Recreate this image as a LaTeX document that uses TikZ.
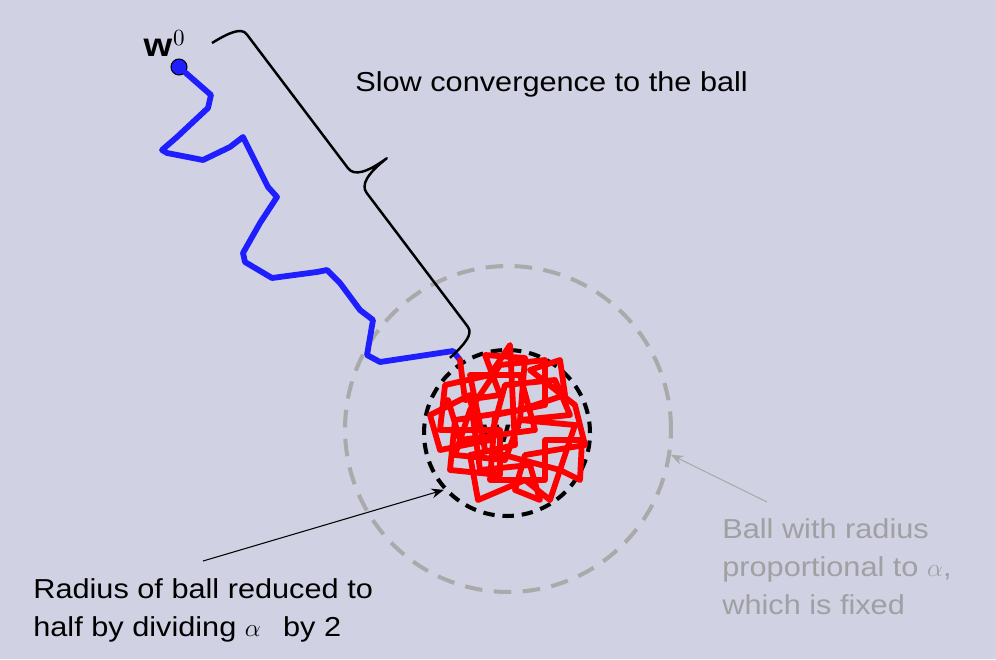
\documentclass[tikz,border=0pt]{standalone}
\usepackage{fontspec}
\setmainfont{Liberation Sans}[FakeStretch=1.12]
\usetikzlibrary{arrows.meta, positioning, calc}
\definecolor{slidebg}{RGB}{208, 209, 227}
\definecolor{walkblue}{RGB}{30, 30, 255}
\definecolor{walkred}{RGB}{255, 0, 0}
\definecolor{ballgray}{RGB}{170, 170, 170}
\definecolor{notegray}{RGB}{160, 160, 163}

\begin{document}
\begin{tikzpicture}[
    x=0.02cm, y=-0.02cm,
    every node/.style={font=\fontsize{15.6}{21.8}\selectfont},
    iterpt/.style={
        circle,
        draw=black,
        line width=0.6pt,
        fill=walkblue,
        minimum size=0.32cm,
        inner sep=0pt
    },
    ball/.style={circle, inner sep=0pt, line width=2.3pt},
    walk/.style={line width=3.3pt, line join=round, line cap=round},
    pointer/.style={-{Stealth[length=7pt, width=5.5pt]}, line width=0.6pt},
    note/.style={align=left, anchor=north west, inner sep=0pt}
]

% Background of the slide
\fill[slidebg] (0,0) rectangle (996,659);
\useasboundingbox (0,0) rectangle (996,659);

% The two balls round the optimum
\node[ball, draw=ballgray, dash pattern=on 10pt off 6.5pt, minimum size=6.52cm] (bigball) at (508,429) {};
\node[ball, draw=black, dash pattern=on 6.5pt off 4.5pt, minimum size=3.32cm] (smallball) at (507,433) {};
\node[inner sep=0pt] (wstar) at (503,432) {\scalebox{1.2}{$\mathbf{w}^{\,*}$}};

% Starting point
\node[iterpt] (w0) at (179,67) {};
\node[inner sep=0pt, anchor=south east] (w0label) at (186,57) {\scalebox{1.2}{$\mathbf{w}^{\,0}$}};

% Path of the iterates: slow walk to the ball, then noise inside it
\coordinate (reach) at (460,360);
\draw[walk, walkblue] (w0) -- (203,88) -- (211,95) -- (208,108) -- (177,137)
    -- (162,150) -- (167,153) -- (203,160) -- (230,147) -- (243,137)
    -- (268,187) -- (277,197) -- (260,223) -- (243,253) -- (245,262)
    -- (272,278) -- (317,272) -- (327,270) -- (340,283) -- (360,310)
    -- (373,320) -- (367,355) -- (380,362) -- (453,351) -- (reach);
\draw[walk, walkred] (reach) -- (465,400) -- (500,395) -- (485,355) -- (525,358)
    -- (520,420) -- (570,415) -- (555,380) -- (505,385) -- (490,440)
    -- (440,450) -- (430,415) -- (470,395) -- (480,470) -- (530,465)
    -- (540,500) -- (515,490) -- (525,455) -- (585,445) -- (575,405)
    -- (530,370) -- (560,360) -- (565,395) -- (520,410) -- (455,420)
    -- (450,470) -- (500,475) -- (500,430) -- (440,430) -- (445,385)
    -- (490,375) -- (510,345) -- (515,445) -- (470,455) -- (478,500)
    -- (525,480) -- (550,500) -- (560,470) -- (580,480) -- (582,440)
    -- (545,440) -- (545,480) -- (490,480) -- (495,415) -- (545,405)
    -- (545,360) -- (500,365) -- (470,410) -- (455,455) -- (505,460)
    -- (520,420) -- (575,425) -- (560,470) -- (485,450) -- (470,375)
    -- (520,375) -- (535,430) -- (460,440) -- (448,400);

% Brace along the slow part
\begin{scope}[shift={(212,43)}, x={(0.01205cm,-0.01595cm)}, y={(0.01595cm,0.01205cm)}]
\draw[line width=1.4pt, line join=round]
    (0,0) .. controls (2,20) and (5,33) .. (14,33) -- (182,33)
    .. controls (192,33) and (197,45) .. (197.5,70)
    .. controls (198,45) and (203,33) .. (213,33) -- (381,33)
    .. controls (390,33) and (393,20) .. (395,0);
\end{scope}

% Labels
\node[note] (slow) at (355,71) {Slow convergence to the ball};
\node[note] (halved) at (33,578) {Radius of ball reduced to\\half by dividing $\alpha$\hspace{0.5em} by 2};
\node[note, text=notegray] (fixed) at (722,518) {Ball with radius\\proportional to $\alpha$,\\which is fixed};

% Pointers to the balls
\coordinate (halvedtail) at (203,561);
\coordinate (fixedtail) at (767,502);
\draw[pointer] (halvedtail) -- (smallball.222);
\draw[pointer, draw=ballgray] (fixedtail) -- (bigball.-9);

\end{tikzpicture}
\end{document}
